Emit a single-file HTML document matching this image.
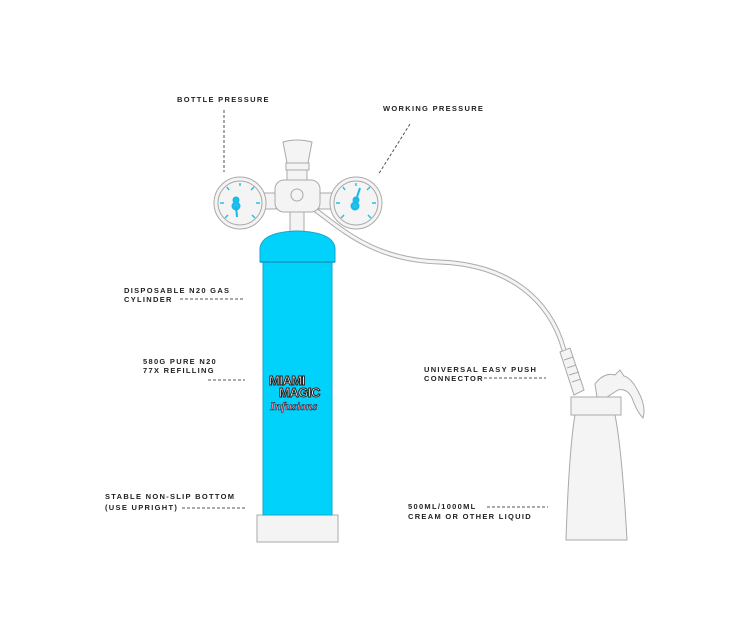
<!DOCTYPE html>
<html><head><style>
html,body{margin:0;padding:0;background:#fff;}
svg{display:block}
text{font-family:"Liberation Sans",sans-serif;font-size:7.5px;font-weight:bold;letter-spacing:1.3px;fill:#222}
</style></head><body>
<svg width="750" height="631" viewBox="0 0 750 631" xmlns="http://www.w3.org/2000/svg">
<g stroke="#555" stroke-width="1" stroke-dasharray="3,2" fill="none">
<line x1="224" y1="110" x2="224" y2="172"/>
<line x1="410" y1="124" x2="378" y2="175"/>
<line x1="180" y1="299" x2="245" y2="299"/>
<line x1="208" y1="380" x2="245" y2="380"/>
<line x1="182" y1="508" x2="245" y2="508"/>
<line x1="484" y1="378" x2="546" y2="378"/>
<line x1="487" y1="507" x2="548" y2="507"/>
</g>
<text x="177" y="102">BOTTLE PRESSURE</text>
<text x="383" y="111">WORKING PRESSURE</text>
<text x="124" y="293">DISPOSABLE N20 GAS</text>
<text x="124" y="302">CYLINDER</text>
<text x="143" y="364">580G PURE N20</text>
<text x="143" y="373">77X REFILLING</text>
<text x="105" y="499">STABLE NON-SLIP BOTTOM</text>
<text x="105" y="510">(USE UPRIGHT)</text>
<text x="424" y="372">UNIVERSAL EASY PUSH</text>
<text x="424" y="381">CONNECTOR</text>
<text x="408" y="509">500ML/1000ML</text>
<text x="408" y="519">CREAM OR OTHER LIQUID</text>

<g stroke="#aaa" stroke-width="1" fill="#f4f4f4">
<path d="M575 415 L615 415 Q622 450 627 540 L566 540 Q569 450 575 415Z"/>
<rect x="571" y="397" width="50" height="18"/>
<path d="M597 397 L595 384 Q604 372 615 375 L620 370 L624 376 Q632 378 640 395 Q646 408 643 418 Q637 412 632 398 Q627 388 618 390 L607 397Z"/>
<path d="M560 352 L570 348 L584 390 L574 395Z"/>
<line x1="564" y1="360" x2="573" y2="357"/><line x1="567" y1="368" x2="576" y2="365"/><line x1="569" y1="375" x2="579" y2="372"/><line x1="572" y1="382" x2="581" y2="379"/>
</g>
<path d="M297 198 C330 215 360 260 440 262 C510 265 550 300 564 350" fill="none" stroke="#aaa" stroke-width="5"/>
<path d="M297 198 C330 215 360 260 440 262 C510 265 550 300 564 350" fill="none" stroke="#f4f4f4" stroke-width="3"/>

<g stroke="#aaa" stroke-width="1" fill="#f4f4f4">
<rect x="290" y="210" width="14" height="22"/>
<rect x="262" y="193" width="14" height="16"/>
<rect x="319" y="193" width="14" height="16"/>
<circle cx="240" cy="203" r="26"/><circle cx="240" cy="203" r="22"/>
<circle cx="356" cy="203" r="26"/><circle cx="356" cy="203" r="22"/>
<rect x="287" y="170" width="20" height="12"/>
<path d="M283 142 Q297 138 312 142 L308 163 L287 163Z"/>
<rect x="286" y="163" width="23" height="7"/>
<rect x="275" y="180" width="45" height="32" rx="9"/>
<circle cx="297" cy="195" r="6"/>
<rect x="257" y="515" width="81" height="27"/>
</g>
<g stroke="#19b8e8" stroke-width="2" fill="#19c6f0">
<circle cx="236" cy="206" r="3.5"/><circle cx="236" cy="200" r="2.5"/><line x1="236" y1="206" x2="237" y2="217"/>
<circle cx="355" cy="206" r="3.5"/><circle cx="356" cy="200" r="2.5"/><line x1="356" y1="200" x2="360" y2="188"/>
</g>
<g stroke="#19c6f0" stroke-width="1.5">
<line x1="229" y1="190" x2="227" y2="187"/><line x1="240" y1="186" x2="240" y2="183"/><line x1="251" y1="190" x2="254" y2="187"/><line x1="224" y1="203" x2="220" y2="203"/><line x1="256" y1="203" x2="260" y2="203"/><line x1="228" y1="215" x2="225" y2="218"/><line x1="252" y1="215" x2="255" y2="218"/>
<line x1="345" y1="190" x2="343" y2="187"/><line x1="356" y1="186" x2="356" y2="183"/><line x1="367" y1="190" x2="370" y2="187"/><line x1="340" y1="203" x2="336" y2="203"/><line x1="372" y1="203" x2="376" y2="203"/><line x1="344" y1="215" x2="341" y2="218"/><line x1="368" y1="215" x2="371" y2="218"/>
</g>

<rect x="263" y="262" width="69" height="253" fill="#00d2fc" stroke="#1aa6c8" stroke-width="1"/>
<path d="M260 262 L260 248 Q262 232 297 231 Q333 232 335 248 L335 262Z" fill="#00d2fc" stroke="#1aa6c8" stroke-width="1"/>
<line x1="260" y1="262" x2="335" y2="262" stroke="#139ac0" stroke-width="1.5"/>
<g font-family="Liberation Sans,sans-serif" font-weight="bold">
<text x="269" y="385" style="font-size:13px;fill:#fff;stroke:#222;stroke-width:1;letter-spacing:-0.5px">MIAMI</text>
<text x="279" y="397" style="font-size:13px;fill:#fff;stroke:#222;stroke-width:1;letter-spacing:-0.5px">MAGIC</text>
<text x="270" y="410" style="font-size:12px;font-style:italic;font-family:'Liberation Serif',serif;fill:#ff7fb0;stroke:#222;stroke-width:0.5;letter-spacing:0">Infusions</text>
</g>
</svg>
</body></html>
